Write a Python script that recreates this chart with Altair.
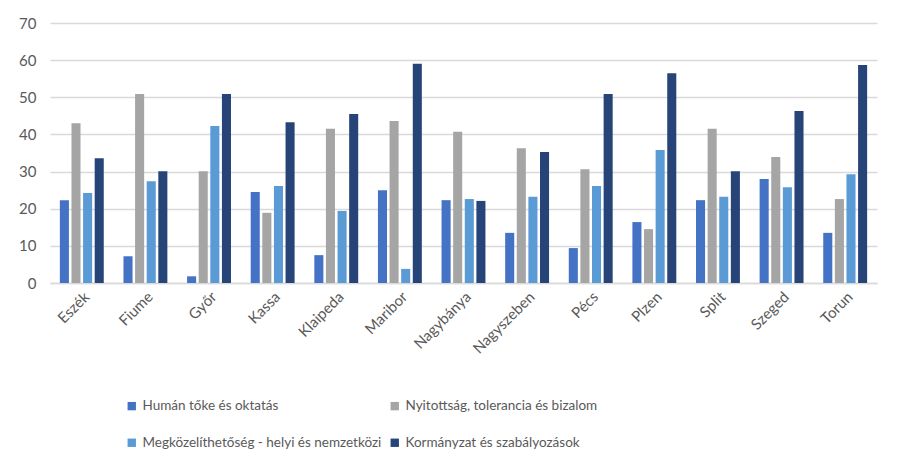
import altair as alt
import pandas as pd

cities = ["Eszék", "Fiume", "Győr", "Kassa", "Klaipeda", "Maribor", "Nagybánya",
          "Nagyszeben", "Pécs", "Plzen", "Split", "Szeged", "Torun"]
series = ["Humán tőke és oktatás", "Nyitottság, tolerancia és bizalom",
          "Megközelíthetőség - helyi és nemzetközi", "Kormányzat és szabályozások"]
human = [22.3, 7.2, 1.8, 24.5, 7.5, 25.0, 22.3, 13.5, 9.4, 16.4, 22.3, 28.0, 13.5]
nyitott = [43.0, 50.9, 30.1, 18.9, 41.5, 43.6, 40.7, 36.3, 30.6, 14.5, 41.5, 33.9, 22.6]
megkoz = [24.2, 27.4, 42.3, 26.1, 19.4, 3.8, 22.6, 23.2, 26.1, 35.8, 23.2, 25.8, 29.3]
kormany = [33.6, 30.1, 50.9, 43.3, 45.5, 59.0, 22.1, 35.3, 50.9, 56.5, 30.1, 46.3, 58.7]
colors = ["#4472C4", "#A5A5A5", "#5B9BD5", "#264478"]

rows = []
for vals, s in zip([human, nyitott, megkoz, kormany], series):
    for c, v in zip(cities, vals):
        rows.append({"city": c, "series": s, "value": v})
df = pd.DataFrame(rows)

# legend fills column-major, so order domain to get row-wise reading as in reference
legend_order = [series[0], series[2], series[1], series[3]]
legend_colors = [colors[0], colors[2], colors[1], colors[3]]

font = "Lato"
chart = alt.Chart(df).mark_bar().encode(
    x=alt.X("city:N", sort=cities, title=None,
            scale=alt.Scale(paddingInner=0.31, paddingOuter=0.155),
            axis=alt.Axis(labelAngle=-45, ticks=False, domain=True, domainColor="#D9D9D9",
                          domainWidth=1.5, labelFontSize=15, labelColor="#595959",
                          labelFont=font, labelPadding=6)),
    xOffset=alt.XOffset("series:N", sort=series,
                        scale=alt.Scale(paddingInner=0.22, paddingOuter=0)),
    y=alt.Y("value:Q", title=None,
            scale=alt.Scale(domain=[0, 70], nice=False),
            axis=alt.Axis(values=list(range(0, 71, 10)), ticks=False, domain=False,
                          gridColor="#D9D9D9", gridWidth=1.5, labelFontSize=15,
                          labelColor="#595959", labelFont=font, labelPadding=14)),
    color=alt.Color("series:N",
                    scale=alt.Scale(domain=legend_order, range=legend_colors),
                    legend=alt.Legend(title=None, orient="none", legendX=75, legendY=376,
                                      columns=2, symbolType="square", symbolSize=70,
                                      symbolStrokeWidth=0, labelFontSize=13.5,
                                      labelColor="#595959", labelFont=font,
                                      labelLimit=400, rowPadding=22, columnPadding=6,
                                      padding=0, labelOffset=4)),
).properties(
    width=827, height=260,
    padding={"left": 42, "top": 15, "right": 10, "bottom": 170},
    autosize=alt.AutoSizeParams(type="none"),
).configure_view(stroke=None)

chart.save("out.html", embed_options={"renderer": "svg", "actions": False})
